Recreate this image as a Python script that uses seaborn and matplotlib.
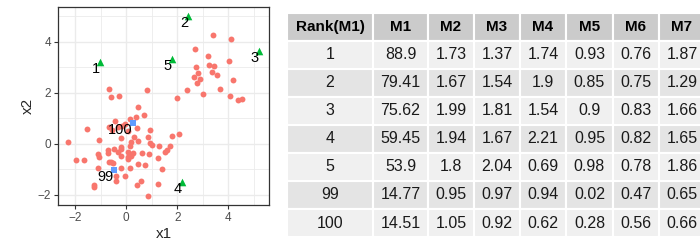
import numpy as np
import pandas as pd
import matplotlib
matplotlib.use("Agg")
import matplotlib.pyplot as plt
import seaborn as sns

# ---------------- data: scatter ----------------
red_x = [3.40, 4.09, 2.69, 3.19, 4.03, 3.24, 3.44, 2.73, 3.35, 2.81, 3.56, 2.65,
         4.18, 2.88, 2.77, 3.66, 2.38, 3.01, 4.05, 4.39, 4.54, 1.99, 2.07, 1.79,
         0.81, 0.44, 0.69, 0.38, 0.13, 0.93, 0.85, 0.94, 1.02, 1.28, 1.71, 1.59,
         1.50, 1.23, 0.89, 0.60, 0.73, 0.44, 1.39, 1.24, 0.85, 0.56, 0.42, 0.16,
         -0.05, 0.47, 0.31, 0.42, -0.69, -0.60, -0.29, -0.44, -1.54, -0.68, -0.55,
         -0.33, -0.16, -0.07, 0.07, -0.21, 0.17, 0.16, 0.05, 0.26, 0.17, 0.08,
         -0.21, -0.21, -0.47, -0.73, -0.71, -1.07, -1.12, -1.08, -2.29, -1.97,
         -1.66, -1.12, -0.69, -0.61, -0.54, -0.22, -0.21, -0.42, -0.39, -1.28,
         -1.27, -0.31, 0.05]
red_y = [4.25, 4.12, 3.73, 3.43, 3.23, 3.10, 3.06, 3.02, 2.80, 2.76, 2.69, 2.63,
         2.49, 2.52, 2.40, 2.13, 2.09, 1.94, 1.89, 1.71, 1.75, 1.81, 0.38, 0.29,
         2.10, 1.43, 1.11, 1.03, 0.96, 0.53, 0.26, 0.04, -0.03, -0.07, -0.07, -0.26,
         -0.31, -0.57, -0.40, -0.38, -0.83, -0.80, -1.00, -1.58, -2.06, -1.47, -1.62,
         -0.94, -1.28, 0.10, 0.27, 0.63, 2.13, 1.85, 1.89, 0.91, 0.56, 0.66, 0.52,
         0.65, 0.69, 0.77, 0.50, 0.23, 0.07, -0.09, -0.33, -0.38, -0.48, -0.51,
         -0.12, -0.22, -0.20, -0.25, -0.38, 0.14, -0.40, -0.51, 0.05, -0.65,
         -0.65, -0.96, -0.73, -0.73, -0.74, -0.96, -0.48, -1.26, -1.45, -1.60,
         -1.68, -0.31, -0.59]

top_x = [-1.02, 2.43, 5.20, 2.17, 1.78]
top_y = [3.22, 5.02, 3.62, -1.49, 3.32]
top_labels = ["1", "2", "3", "4", "5"]

low_x = [-0.48, 0.25]
low_y = [-1.03, 0.80]
low_labels = ["99", "100"]

# ---------------- data: table ----------------
col_names = ["Rank(M1)", "M1", "M2", "M3", "M4", "M5", "M6", "M7"]
rank = [1, 2, 3, 4, 5, 99, 100]
m1 = [88.9, 79.41, 75.62, 59.45, 53.9, 14.77, 14.51]
m2 = [1.73, 1.67, 1.99, 1.94, 1.8, 0.95, 1.05]
m3 = [1.37, 1.54, 1.81, 1.67, 2.04, 0.97, 0.92]
m4 = [1.74, 1.9, 1.54, 2.21, 0.69, 0.94, 0.62]
m5 = [0.93, 0.85, 0.9, 0.95, 0.98, 0.02, 0.28]
m6 = [0.76, 0.75, 0.83, 0.82, 0.78, 0.47, 0.56]
m7 = [1.87, 1.29, 1.66, 1.65, 1.86, 0.65, 0.66]

sns.set_style("white")
plt.rcParams["font.family"] = ["Liberation Sans", "DejaVu Sans"]

df = pd.DataFrame({
    "x1": red_x + top_x + low_x,
    "x2": red_y + top_y + low_y,
    "grp": ["a"] * len(red_x) + ["top"] * len(top_x) + ["low"] * len(low_x),
})

fig = plt.figure(figsize=(7, 2.5), dpi=100)

# ---------------- scatter ----------------
ax = fig.add_axes([58 / 700, 45 / 250, 211 / 700, 198 / 250])
sns.scatterplot(data=df[df.grp == "a"], x="x1", y="x2", color="#F8766D",
                s=18, linewidth=0, ax=ax, zorder=3)
sns.scatterplot(data=df[df.grp == "top"], x="x1", y="x2", color="#00BA38",
                marker="^", s=30, linewidth=0, ax=ax, zorder=3)
sns.scatterplot(data=df[df.grp == "low"], x="x1", y="x2", color="#619CFF",
                marker="s", s=16, linewidth=0, ax=ax, zorder=3)

for xs, ys, labs in [(top_x, top_y, top_labels), (low_x, low_y, low_labels)]:
    for x, y, t in zip(xs, ys, labs):
        ax.text(x, y, t, ha="right", va="top", fontsize=10.5, color="black", zorder=4)

ax.set_xlim(-2.68, 5.6)
ax.set_ylim(-2.4, 5.36)
ax.set_xticks([-2, 0, 2, 4])
ax.set_yticks([-2, 0, 2, 4])
ax.set_xticks([-1, 1, 3, 5], minor=True)
ax.set_yticks([-1, 1, 3, 5], minor=True)
ax.grid(True, which="major", color="#EBEBEB", linewidth=1.0)
ax.grid(True, which="minor", color="#EBEBEB", linewidth=0.6)
ax.set_axisbelow(True)
for s in ax.spines.values():
    s.set_color("#333333")
    s.set_linewidth(0.9)
ax.tick_params(which="major", length=3, width=0.8, color="#333333",
               labelsize=8.5, labelcolor="#4D4D4D", pad=2, bottom=True, left=True)
ax.tick_params(which="minor", length=0)
ax.set_xlabel("x1", fontsize=11, labelpad=2)
ax.set_ylabel("x2", fontsize=11, labelpad=2)

# ---------------- table ----------------
tab = pd.DataFrame({"Rank(M1)": rank, "M1": m1, "M2": m2, "M3": m3, "M4": m4,
                    "M5": m5, "M6": m6, "M7": m7})
cells = [[str(v) for v in row] for row in tab[col_names].values.tolist()]
cells = [[str(int(float(r[0])))] + r[1:] for r in cells]

tax = fig.add_axes([287 / 700, 13 / 250, 418 / 700, 224 / 250])
tax.axis("off")
widths = [86, 55, 46, 46, 46, 47, 46, 46]
widths = [w / sum(widths) for w in widths]
row_cols = [["#F0F0F0" if i % 2 == 0 else "#E4E4E4"] * len(col_names)
            for i in range(len(cells))]
tbl = tax.table(cellText=cells, colLabels=col_names, cellColours=row_cols,
                colColours=["#CBCBCB"] * len(col_names), colWidths=widths,
                cellLoc="center", bbox=[0, 0, 1, 1])
tbl.auto_set_font_size(False)
for (r, c), cell in tbl.get_celld().items():
    cell.set_edgecolor("white")
    cell.set_linewidth(1.5)
    cell.set_text_props(fontsize=11.5, color="#1a1a1a")
    if r == 0:
        cell.set_text_props(fontsize=11, fontweight="bold", color="black")

fig.savefig("out.png", dpi=100)
